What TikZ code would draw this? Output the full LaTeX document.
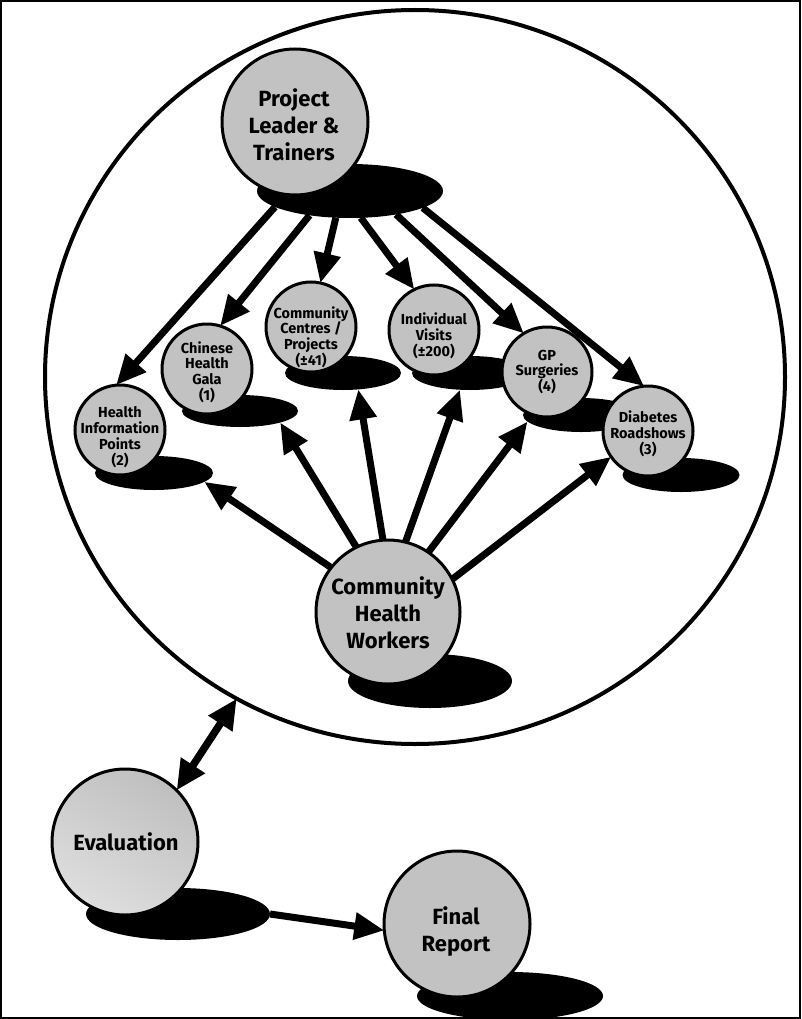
\documentclass[tikz,border=0pt]{standalone}
\usepackage{fontspec}
\setmainfont{Fira Sans}
\usetikzlibrary{arrows.meta,shapes.geometric}
\pgfdeclarelayer{bg}
\pgfsetlayers{bg,main}
\definecolor{ballgray}{gray}{0.76}
\begin{document}
\begin{tikzpicture}[x=1pt,y=-1pt,
  ball/.style={circle, draw=black, line width=3pt, fill=ballgray, inner sep=0pt, outer sep=0pt},
  blot/.style={ellipse, fill=black, draw=none, inner sep=0pt, outer sep=0pt},
  bigtxt/.style={font=\bfseries\fontsize{22}{27}\selectfont, align=center, inner sep=0pt},
  smalltxt/.style={font=\bfseries\fontsize{14.5}{15.8}\selectfont, align=center, inner sep=0pt},
  link/.style={line width=7pt, -{Triangle[length=30pt,width=26pt]}},
  twoway/.style={line width=7.5pt, {Triangle[length=30pt,width=27pt]}-{Triangle[length=30pt,width=27pt]}}
]
\useasboundingbox (0,0) rectangle (801,1019);
\draw[line width=2pt] (1,1) rectangle (800,1018);

% the team circle
\node[ellipse, draw=black, line width=4pt, minimum width=740pt, minimum height=734pt,
      inner sep=0pt, outer sep=0pt] (team) at (415,377) {};

% shadows
\node[blot, minimum width=186pt, minimum height=54pt] (plt-sh) at (350,191) {};
\node[blot, minimum width=118pt, minimum height=34pt] (hip-sh) at (154,473) {};
\node[blot, minimum width=116pt, minimum height=32pt] (chg-sh) at (240,411) {};
\node[blot, minimum width=116pt, minimum height=34pt] (ccp-sh) at (343,373) {};
\node[blot, minimum width=116pt, minimum height=34pt] (iv-sh) at (470,373) {};
\node[blot, minimum width=116pt, minimum height=34pt] (gp-sh) at (581,415) {};
\node[blot, minimum width=117pt, minimum height=34pt] (dr-sh) at (681,475) {};
\node[blot, minimum width=164pt, minimum height=54pt] (chw-sh) at (430,681) {};
\node[blot, minimum width=184pt, minimum height=52pt] (ev-sh) at (178,914) {};
\node[blot, minimum width=186pt, minimum height=48pt] (fr-sh) at (510,996) {};

% balls
\node[ball, minimum size=146pt] (plt) at (295,122) {};
\node[ball, minimum size=90pt] (hip) at (120,430) {};
\node[ball, minimum size=90pt] (chg) at (207,369) {};
\node[ball, minimum size=90pt] (ccp) at (311,327) {};
\node[ball, minimum size=90pt] (iv) at (434,330) {};
\node[ball, minimum size=90pt] (gp) at (547,372) {};
\node[ball, minimum size=90pt] (dr) at (648,431) {};
\node[ball, minimum size=144pt] (chw) at (388,612) {};
\node[ball, minimum size=146pt, top color=black!25, bottom color=black!13,
      shading angle=-30] (ev) at (125,842) {};
\node[ball, minimum size=146pt] (fr) at (457,924) {};

% labels
\node[bigtxt] (plt-t) at (294,125) {Project\\Leader \&\\Trainers};
\node[smalltxt] (hip-t) at (120,437) {Health\\Information\\Points\\(2)};
\node[smalltxt] (chg-t) at (207,372) {Chinese\\Health\\Gala\\(1)};
\node[smalltxt] (ccp-t) at (311,337) {Community\\Centres /\\Projects\\(±41)};
\node[smalltxt] (iv-t) at (434,336) {Individual\\Visits\\(±200)};
\node[smalltxt] (gp-t) at (547,372) {GP\\Surgeries\\(4)};
\node[smalltxt] (dr-t) at (648,434) {Diabetes\\Roadshows\\(3)};
\node[bigtxt] (chw-t) at (388,613) {Community\\Health\\Workers};
\node[bigtxt] (ev-t) at (126,842) {Evaluation};
\node[bigtxt] (fr-t) at (456,932) {Final\\Report};

% connectors, behind the balls and shadows
\begin{pgfonlayer}{bg}
  \draw[link] (plt-sh.192) -- (hip.95);
  \draw[link] (plt-sh.211) -- (chg.73);
  \draw[link] (plt-sh.242) -- (ccp.78);
  \draw[link] (plt-sh.292) -- (iv.116);
  \draw[link] (plt-sh.333) -- (gp.121);
  \draw[link] (plt-sh.347) -- (dr.95);

  \draw[link] (chw.142) -- (hip-sh.350);
  \draw[link] (chw.116) -- (chg-sh.344);
  \draw[link] (chw.94) -- (ccp-sh.313);
  \draw[link] (chw.76) -- (iv-sh.239);
  \draw[link] (chw.56) -- (gp-sh.187);
  \draw[link] (chw.27) -- (dr.215);

  \draw[twoway] (ev.45) -- (team.241);
  \draw[link] (ev-sh.0) -- (fr.185);
\end{pgfonlayer}
\end{tikzpicture}
\end{document}
